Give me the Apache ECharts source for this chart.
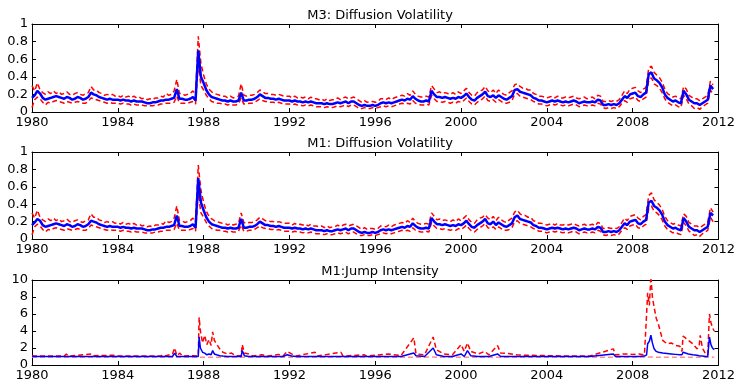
<!DOCTYPE html>
<html><head><meta charset="utf-8">
<script src="https://cdn.jsdelivr.net/npm/echarts@6/dist/echarts.min.js"></script>
<style>html,body{margin:0;padding:0;background:#fff}#c{width:738px;height:382px}</style>
</head><body><div id="c"></div>
<script>
// Diffusion volatility: one value every 1/8 year starting 1980.0
const volStart = 1980;
const volStep = 0.125;
const titles = ['M3: Diffusion Volatility', 'M1: Diffusion Volatility', 'M1:Jump Intensity'];
const xTicks = [1980, 1984, 1988, 1992, 1996, 2000, 2004, 2008, 2012];

const m3Est = [
0.16,0.19,0.24,0.21,0.16,0.14,0.15,0.16, 0.17,0.18,0.17,0.16,0.15,0.17,0.16,0.14,
0.15,0.17,0.16,0.14,0.15,0.17,0.22,0.20, 0.19,0.17,0.16,0.15,0.14,0.15,0.14,0.14,
0.14,0.13,0.14,0.13,0.13,0.12,0.13,0.12, 0.12,0.12,0.11,0.10,0.10,0.11,0.11,0.12,
0.13,0.13,0.14,0.14,0.15,0.16,0.26,0.15, 0.15,0.14,0.14,0.15,0.17,0.13,0.70,0.40,
0.33,0.25,0.20,0.17,0.16,0.15,0.14,0.13, 0.13,0.12,0.13,0.12,0.12,0.13,0.22,0.13,
0.13,0.14,0.14,0.15,0.17,0.20,0.18,0.16, 0.16,0.15,0.15,0.14,0.15,0.14,0.13,0.13,
0.13,0.12,0.13,0.12,0.12,0.11,0.12,0.11, 0.12,0.11,0.10,0.10,0.10,0.09,0.10,0.09,
0.09,0.10,0.11,0.10,0.11,0.12,0.10,0.12, 0.12,0.10,0.08,0.07,0.08,0.07,0.07,0.08,
0.07,0.08,0.10,0.11,0.10,0.11,0.10,0.11, 0.12,0.13,0.14,0.13,0.15,0.14,0.18,0.15,
0.13,0.12,0.12,0.13,0.12,0.24,0.20,0.17, 0.17,0.16,0.17,0.16,0.15,0.16,0.15,0.17,
0.16,0.18,0.21,0.17,0.14,0.13,0.16,0.18, 0.20,0.23,0.18,0.17,0.19,0.16,0.19,0.17,
0.15,0.14,0.16,0.18,0.25,0.26,0.23,0.22, 0.21,0.20,0.19,0.16,0.15,0.13,0.13,0.12,
0.11,0.12,0.13,0.12,0.13,0.12,0.11,0.12, 0.11,0.12,0.13,0.12,0.10,0.11,0.12,0.11,
0.11,0.12,0.11,0.14,0.13,0.08,0.08,0.09, 0.08,0.09,0.08,0.10,0.14,0.18,0.16,0.20,
0.21,0.22,0.18,0.17,0.20,0.22,0.43,0.45, 0.38,0.36,0.33,0.28,0.20,0.16,0.14,0.12,
0.13,0.11,0.10,0.24,0.20,0.14,0.12,0.10, 0.10,0.08,0.10,0.12,0.14,0.30,0.26
];
const m3Upper = [
0.30,0.24,0.33,0.25,0.22,0.20,0.23,0.21, 0.24,0.21,0.23,0.20,0.21,0.23,0.20,0.19,
0.21,0.22,0.20,0.19,0.21,0.22,0.29,0.25, 0.25,0.22,0.21,0.19,0.20,0.19,0.20,0.18,
0.19,0.17,0.19,0.17,0.18,0.16,0.18,0.16, 0.17,0.15,0.16,0.14,0.15,0.14,0.16,0.16,
0.18,0.17,0.21,0.19,0.20,0.24,0.37,0.21, 0.21,0.19,0.20,0.21,0.24,0.20,0.86,0.55,
0.42,0.32,0.26,0.23,0.21,0.20,0.19,0.18, 0.18,0.16,0.18,0.16,0.17,0.18,0.32,0.19,
0.18,0.19,0.19,0.20,0.22,0.25,0.23,0.21, 0.21,0.20,0.20,0.19,0.20,0.19,0.18,0.18,
0.18,0.16,0.18,0.16,0.17,0.16,0.17,0.15, 0.17,0.15,0.15,0.14,0.15,0.13,0.15,0.13,
0.14,0.14,0.16,0.14,0.16,0.17,0.15,0.16, 0.17,0.15,0.13,0.11,0.13,0.11,0.12,0.12,
0.11,0.12,0.15,0.15,0.14,0.16,0.14,0.16, 0.17,0.18,0.19,0.18,0.21,0.19,0.24,0.20,
0.18,0.17,0.17,0.18,0.17,0.30,0.26,0.22, 0.23,0.21,0.22,0.21,0.20,0.22,0.20,0.23,
0.21,0.24,0.27,0.22,0.19,0.18,0.22,0.24, 0.25,0.29,0.24,0.22,0.25,0.21,0.25,0.22,
0.20,0.19,0.22,0.24,0.31,0.32,0.29,0.27, 0.27,0.25,0.25,0.21,0.20,0.18,0.18,0.17,
0.16,0.17,0.18,0.16,0.18,0.16,0.16,0.17, 0.16,0.17,0.18,0.16,0.15,0.16,0.17,0.15,
0.16,0.17,0.15,0.19,0.18,0.12,0.12,0.13, 0.12,0.13,0.12,0.14,0.19,0.24,0.21,0.26,
0.27,0.28,0.24,0.22,0.26,0.28,0.50,0.52, 0.45,0.42,0.39,0.34,0.26,0.21,0.19,0.17,
0.18,0.16,0.15,0.29,0.26,0.19,0.17,0.15, 0.15,0.13,0.15,0.17,0.19,0.35,0.31
];
const m3Lower = [
0.05,0.14,0.17,0.15,0.11,0.08,0.11,0.10, 0.12,0.13,0.12,0.11,0.10,0.12,0.11,0.10,
0.11,0.12,0.11,0.10,0.10,0.12,0.16,0.15, 0.14,0.13,0.12,0.11,0.10,0.11,0.10,0.10,
0.10,0.09,0.10,0.09,0.09,0.08,0.09,0.08, 0.08,0.08,0.07,0.07,0.07,0.07,0.08,0.08,
0.09,0.09,0.10,0.10,0.10,0.11,0.18,0.10, 0.10,0.10,0.10,0.11,0.12,0.09,0.55,0.30,
0.25,0.19,0.15,0.12,0.11,0.10,0.10,0.09, 0.09,0.08,0.09,0.08,0.08,0.09,0.16,0.09,
0.09,0.10,0.10,0.11,0.13,0.15,0.13,0.12, 0.12,0.11,0.11,0.10,0.11,0.10,0.09,0.09,
0.09,0.08,0.09,0.08,0.08,0.07,0.08,0.07, 0.08,0.07,0.06,0.06,0.06,0.05,0.06,0.05,
0.05,0.06,0.07,0.06,0.07,0.08,0.06,0.08, 0.08,0.06,0.04,0.04,0.05,0.04,0.04,0.05,
0.04,0.05,0.06,0.07,0.06,0.07,0.06,0.07, 0.08,0.09,0.10,0.09,0.10,0.09,0.13,0.10,
0.09,0.08,0.08,0.09,0.08,0.19,0.15,0.12, 0.12,0.11,0.12,0.11,0.10,0.11,0.10,0.12,
0.11,0.13,0.16,0.12,0.09,0.08,0.11,0.13, 0.15,0.18,0.13,0.12,0.14,0.11,0.14,0.12,
0.10,0.10,0.11,0.13,0.20,0.21,0.18,0.17, 0.16,0.15,0.14,0.12,0.11,0.09,0.09,0.08,
0.07,0.08,0.09,0.08,0.09,0.08,0.07,0.08, 0.07,0.08,0.09,0.08,0.06,0.07,0.08,0.07,
0.07,0.08,0.07,0.10,0.09,0.05,0.04,0.05, 0.04,0.05,0.04,0.06,0.10,0.13,0.11,0.15,
0.16,0.17,0.13,0.12,0.15,0.17,0.36,0.39, 0.32,0.30,0.27,0.22,0.15,0.11,0.09,0.07,
0.08,0.06,0.05,0.19,0.15,0.09,0.07,0.04, 0.05,0.03,0.06,0.08,0.10,0.25,0.20
];

const m1Est = [
0.16,0.19,0.23,0.21,0.16,0.14,0.15,0.16, 0.17,0.18,0.17,0.16,0.15,0.17,0.16,0.14,
0.15,0.17,0.16,0.14,0.15,0.17,0.21,0.20, 0.19,0.17,0.16,0.15,0.14,0.15,0.14,0.14,
0.14,0.13,0.14,0.13,0.13,0.12,0.13,0.12, 0.12,0.12,0.11,0.10,0.10,0.11,0.11,0.12,
0.13,0.13,0.14,0.14,0.15,0.16,0.27,0.15, 0.15,0.14,0.14,0.15,0.17,0.13,0.70,0.42,
0.33,0.25,0.20,0.17,0.16,0.15,0.14,0.13, 0.13,0.12,0.13,0.12,0.12,0.13,0.23,0.13,
0.13,0.14,0.14,0.15,0.17,0.20,0.18,0.16, 0.16,0.15,0.15,0.14,0.15,0.14,0.13,0.13,
0.13,0.12,0.13,0.12,0.12,0.11,0.12,0.11, 0.12,0.11,0.10,0.10,0.10,0.09,0.10,0.09,
0.09,0.10,0.11,0.10,0.11,0.12,0.10,0.12, 0.12,0.10,0.08,0.07,0.08,0.07,0.07,0.08,
0.07,0.08,0.10,0.11,0.10,0.11,0.10,0.11, 0.12,0.13,0.14,0.13,0.15,0.14,0.18,0.15,
0.13,0.12,0.12,0.13,0.12,0.24,0.20,0.17, 0.17,0.16,0.17,0.16,0.15,0.16,0.15,0.17,
0.16,0.18,0.21,0.17,0.14,0.13,0.16,0.18, 0.20,0.23,0.18,0.17,0.20,0.16,0.19,0.17,
0.15,0.14,0.16,0.18,0.25,0.27,0.23,0.22, 0.21,0.20,0.19,0.16,0.15,0.13,0.13,0.12,
0.11,0.12,0.13,0.12,0.13,0.12,0.11,0.12, 0.11,0.12,0.13,0.12,0.10,0.11,0.12,0.11,
0.11,0.12,0.11,0.14,0.13,0.08,0.08,0.09, 0.08,0.09,0.08,0.10,0.14,0.18,0.16,0.20,
0.21,0.22,0.18,0.17,0.20,0.22,0.42,0.44, 0.38,0.36,0.33,0.28,0.20,0.16,0.14,0.12,
0.13,0.11,0.10,0.24,0.20,0.14,0.12,0.10, 0.10,0.08,0.10,0.12,0.14,0.30,0.27
];
const m1Upper = [
0.30,0.24,0.33,0.25,0.22,0.20,0.23,0.21, 0.24,0.21,0.23,0.20,0.21,0.23,0.20,0.19,
0.21,0.22,0.20,0.19,0.21,0.22,0.29,0.25, 0.25,0.22,0.21,0.19,0.20,0.19,0.20,0.18,
0.19,0.17,0.19,0.17,0.18,0.16,0.18,0.16, 0.17,0.15,0.16,0.14,0.15,0.14,0.16,0.16,
0.18,0.17,0.21,0.19,0.20,0.24,0.38,0.21, 0.21,0.19,0.20,0.21,0.24,0.20,0.85,0.56,
0.42,0.32,0.26,0.23,0.21,0.20,0.19,0.18, 0.18,0.16,0.18,0.16,0.17,0.18,0.30,0.19,
0.18,0.19,0.19,0.20,0.22,0.25,0.23,0.21, 0.21,0.20,0.20,0.19,0.20,0.19,0.18,0.18,
0.18,0.16,0.18,0.16,0.17,0.16,0.17,0.15, 0.17,0.15,0.15,0.14,0.15,0.13,0.15,0.13,
0.14,0.14,0.16,0.14,0.16,0.17,0.15,0.16, 0.17,0.15,0.13,0.11,0.13,0.11,0.12,0.12,
0.11,0.12,0.15,0.15,0.14,0.16,0.14,0.16, 0.17,0.18,0.19,0.18,0.21,0.19,0.24,0.20,
0.18,0.17,0.17,0.18,0.17,0.30,0.26,0.22, 0.23,0.21,0.22,0.21,0.20,0.22,0.20,0.23,
0.21,0.24,0.27,0.22,0.19,0.18,0.22,0.24, 0.25,0.28,0.24,0.22,0.26,0.21,0.25,0.22,
0.20,0.19,0.22,0.24,0.31,0.33,0.29,0.27, 0.27,0.25,0.25,0.21,0.20,0.18,0.18,0.17,
0.16,0.17,0.18,0.16,0.18,0.16,0.16,0.17, 0.16,0.17,0.18,0.16,0.15,0.16,0.17,0.15,
0.16,0.17,0.15,0.19,0.18,0.12,0.12,0.13, 0.12,0.13,0.12,0.14,0.19,0.24,0.21,0.26,
0.27,0.28,0.24,0.22,0.26,0.28,0.50,0.53, 0.45,0.42,0.39,0.34,0.26,0.21,0.19,0.17,
0.18,0.16,0.15,0.29,0.26,0.19,0.17,0.15, 0.15,0.13,0.15,0.17,0.19,0.36,0.31
];
const m1Lower = [
0.05,0.14,0.17,0.15,0.11,0.08,0.11,0.10, 0.12,0.13,0.12,0.11,0.10,0.12,0.11,0.10,
0.11,0.12,0.11,0.10,0.10,0.12,0.16,0.15, 0.14,0.13,0.12,0.11,0.10,0.11,0.10,0.10,
0.10,0.09,0.10,0.09,0.09,0.08,0.09,0.08, 0.08,0.08,0.07,0.07,0.07,0.07,0.08,0.08,
0.09,0.09,0.10,0.10,0.10,0.11,0.18,0.10, 0.10,0.10,0.10,0.11,0.12,0.09,0.52,0.30,
0.25,0.19,0.15,0.12,0.11,0.10,0.10,0.09, 0.09,0.08,0.09,0.08,0.08,0.09,0.16,0.09,
0.09,0.10,0.10,0.11,0.13,0.15,0.13,0.12, 0.12,0.11,0.11,0.10,0.11,0.10,0.09,0.09,
0.09,0.08,0.09,0.08,0.08,0.07,0.08,0.07, 0.08,0.07,0.06,0.06,0.06,0.05,0.06,0.05,
0.05,0.06,0.07,0.06,0.07,0.08,0.06,0.08, 0.08,0.06,0.04,0.04,0.05,0.04,0.04,0.05,
0.04,0.05,0.06,0.07,0.06,0.07,0.06,0.07, 0.08,0.09,0.10,0.09,0.10,0.09,0.13,0.10,
0.09,0.08,0.08,0.09,0.08,0.19,0.15,0.12, 0.12,0.11,0.12,0.11,0.10,0.11,0.10,0.12,
0.11,0.13,0.16,0.12,0.09,0.08,0.11,0.13, 0.15,0.18,0.13,0.12,0.14,0.11,0.14,0.12,
0.10,0.10,0.11,0.13,0.20,0.21,0.18,0.17, 0.16,0.15,0.14,0.12,0.11,0.09,0.09,0.08,
0.07,0.08,0.09,0.08,0.09,0.08,0.07,0.08, 0.07,0.08,0.09,0.08,0.06,0.07,0.08,0.07,
0.07,0.08,0.07,0.10,0.09,0.05,0.04,0.05, 0.04,0.05,0.04,0.06,0.10,0.13,0.11,0.15,
0.16,0.17,0.13,0.12,0.15,0.17,0.35,0.38, 0.32,0.30,0.27,0.22,0.15,0.11,0.09,0.07,
0.08,0.06,0.05,0.19,0.15,0.09,0.07,0.04, 0.05,0.03,0.06,0.08,0.10,0.25,0.20
];

// Jump intensity: irregular dates (decimal years)
const jumpYears = [
1980.0,1981.5,1981.6,1981.7,1982.8,1982.9,1983.8,1983.9,1986.0,1986.1,1986.2,1986.55,1986.65,1986.75,1986.9,1987.0,
1987.5,1987.75,1987.79,1987.85,1987.95,1988.05,1988.15,1988.25,1988.35,1988.42,1988.5,1988.6,1988.75,1988.9,1989.1,1989.3,
1989.5,1989.75,1989.8,1989.9,1990.1,1990.3,1990.7,1991.0,1991.5,1991.7,1991.9,1992.1,1992.3,1993.2,1993.3,1994.4,
1994.5,1995.5,1995.6,1996.6,1997.2,1997.8,1997.9,1998.3,1998.7,1998.85,1999.2,1999.6,2000.0,2000.15,2000.3,2000.45,
2000.8,2001.1,2001.3,2001.7,2001.85,2002.2,2002.6,2003.0,2004.0,2005.0,2006.0,2007.1,2007.2,2007.6,2008.0,2008.3,
2008.55,2008.65,2008.7,2008.78,2008.85,2008.92,2009.0,2009.1,2009.2,2009.4,2009.6,2009.8,2010.0,2010.2,2010.3,2010.35,
2010.6,2010.8,2011.0,2011.1,2011.15,2011.25,2011.4,2011.5,2011.58,2011.65,2011.72,2011.8
];
const jumpEst = [
1.0,1.0,1.0,1.0,1.0,1.0,1.0,1.0,1.0,1.0,1.0,1.0,1.4,1.0,1.0,1.0,
1.0,1.0,3.3,2.0,1.5,1.4,1.2,1.3,1.2,1.7,1.3,1.2,1.1,1.05,1.0,1.0,
1.0,1.0,1.7,1.1,1.0,1.0,1.0,1.0,1.0,1.0,1.2,1.05,1.0,1.0,1.0,1.0,
1.0,1.0,1.0,1.0,1.0,1.4,1.1,1.0,2.0,1.2,1.0,1.0,1.3,1.0,1.7,1.1,
1.0,1.0,1.0,1.3,1.0,1.0,1.0,1.0,1.0,1.0,1.0,1.3,1.0,1.0,1.0,1.0,
1.05,1.2,2.5,2.8,3.5,2.6,1.9,1.6,1.5,1.4,1.35,1.3,1.25,1.2,1.2,1.5,
1.3,1.2,1.15,1.1,1.1,1.05,1.0,1.0,3.3,2.4,2.0,1.8
];
const jumpUpper = [
1.05,1.05,1.3,1.05,1.3,1.1,1.15,1.05,1.05,1.2,1.05,1.3,2.0,1.1,1.4,1.05,
1.1,1.05,5.6,4.0,2.6,3.5,2.4,3.0,2.3,3.9,2.9,2.5,1.9,1.5,1.3,1.4,
1.1,1.1,2.4,1.4,1.3,1.05,1.2,1.05,1.25,1.05,1.6,1.3,1.05,1.5,1.05,1.5,
1.05,1.2,1.05,1.3,1.1,3.2,1.3,1.2,3.3,1.8,1.3,1.2,2.4,1.6,2.6,1.6,
1.3,1.6,1.2,2.3,1.4,1.35,1.2,1.15,1.1,1.05,1.05,1.9,1.2,1.3,1.25,1.3,
1.2,6.0,8.5,7.0,10.5,8.0,6.8,5.5,4.8,2.9,2.5,2.6,2.3,2.2,1.6,3.4,
2.9,2.5,1.9,2.2,3.5,2.0,1.3,1.2,6.0,5.0,4.4,4.0
];
const jumpLower = [
0.92,0.92,0.92,0.92,0.92,0.92,0.92,0.92,0.92,0.92,0.92,0.92,0.95,0.92,0.92,0.92,
0.92,0.92,0.95,0.92,0.92,0.92,0.92,0.92,0.92,0.92,0.92,0.92,0.92,0.92,0.92,0.92,
0.92,0.92,0.95,0.92,0.92,0.92,0.92,0.92,0.92,0.92,0.92,0.92,0.92,0.92,0.92,0.92,
0.92,0.92,0.92,0.92,0.92,0.92,0.92,0.92,0.95,0.92,0.92,0.92,0.92,0.92,0.92,0.92,
0.92,0.92,0.92,0.92,0.92,0.92,0.92,0.92,0.92,0.92,0.92,0.92,0.92,0.92,0.92,0.92,
0.92,0.92,0.95,0.95,0.95,0.95,0.92,0.92,0.92,0.92,0.92,0.92,0.92,0.92,0.92,0.92,
0.92,0.92,0.92,0.92,0.92,0.92,0.92,0.92,0.95,0.92,0.92,0.92
];

const volYears = m3Est.map((_, i) => volStart + i * volStep);
const pair = (xs, ys) => ys.map((v, i) => [xs[i], v]);

const FONT = 'DejaVu Sans';
const grids = [
  {left: 32, right: 19, top: 24, height: 88},
  {left: 32, right: 19, top: 152, height: 87},
  {left: 32, right: 19, top: 280, height: 87}
];
const yCfg = [
  {min: 0, max: 1, interval: 0.2},
  {min: 0, max: 1, interval: 0.2},
  {min: 0, max: 10, interval: 2}
];
const xAxis = [], yAxis = [];
grids.forEach((g, i) => {
  const base = {type: 'value', gridIndex: i, min: 1980, max: 2012, interval: 4,
    splitLine: {show: false},
    axisLine: {show: true, onZero: false, lineStyle: {color: '#000', width: 1}},
    axisTick: {show: true, inside: true, length: 4, lineStyle: {color: '#000'}}};
  xAxis.push(Object.assign({}, base, {position: 'bottom',
    axisLabel: {show: true, margin: 4, color: '#000', fontFamily: FONT, fontSize: 13,
      formatter: v => String(v)}}));
  xAxis.push(Object.assign({}, base, {position: 'top', axisLabel: {show: false}}));
  const yb = {type: 'value', gridIndex: i, min: yCfg[i].min, max: yCfg[i].max, interval: yCfg[i].interval,
    splitLine: {show: false},
    axisLine: {show: true, onZero: false, lineStyle: {color: '#000', width: 1}},
    axisTick: {show: true, inside: true, length: 4, lineStyle: {color: '#000'}}};
  yAxis.push(Object.assign({}, yb, {position: 'left',
    axisLabel: {show: true, margin: 4, color: '#000', fontFamily: FONT, fontSize: 13,
      formatter: v => String(Math.round(v * 10) / 10)}}));
  yAxis.push(Object.assign({}, yb, {position: 'right', axisLabel: {show: false}}));
});

const mk = (i, data, kind, width) => ({
  type: 'line', xAxisIndex: 2 * i, yAxisIndex: 2 * i, data, showSymbol: false,
  symbol: 'none', animation: false, z: kind === 'est' ? 3 : 2,
  lineStyle: kind === 'est' ? {color: '#0000ff', width: width} :
    {color: kind === 'lowpale' ? '#ff8c8c' : '#ff0000', width: 1.5, type: [5, 3]}
});

const series = [
  mk(0, pair(volYears, m3Upper), 'band'), mk(0, pair(volYears, m3Lower), 'band'), mk(0, pair(volYears, m3Est), 'est', 2.5),
  mk(1, pair(volYears, m1Upper), 'band'), mk(1, pair(volYears, m1Lower), 'band'), mk(1, pair(volYears, m1Est), 'est', 2.5),
  mk(2, pair(jumpYears, jumpLower), 'lowpale'), mk(2, pair(jumpYears, jumpEst), 'est', 1.5), mk(2, pair(jumpYears, jumpUpper), 'band')
];

const titleTops = [4, 132, 260];
const title = titles.map((t, i) => ({text: t, left: 375, top: titleTops[i], textAlign: 'center',
  textStyle: {fontFamily: FONT, fontSize: 13, fontWeight: 'normal', color: '#000'}}));

const chart = echarts.init(document.getElementById('c'), null, {renderer: 'canvas'});
chart.setOption({animation: false, backgroundColor: '#fff', title, grid: grids, xAxis, yAxis, series});
</script></body></html>
